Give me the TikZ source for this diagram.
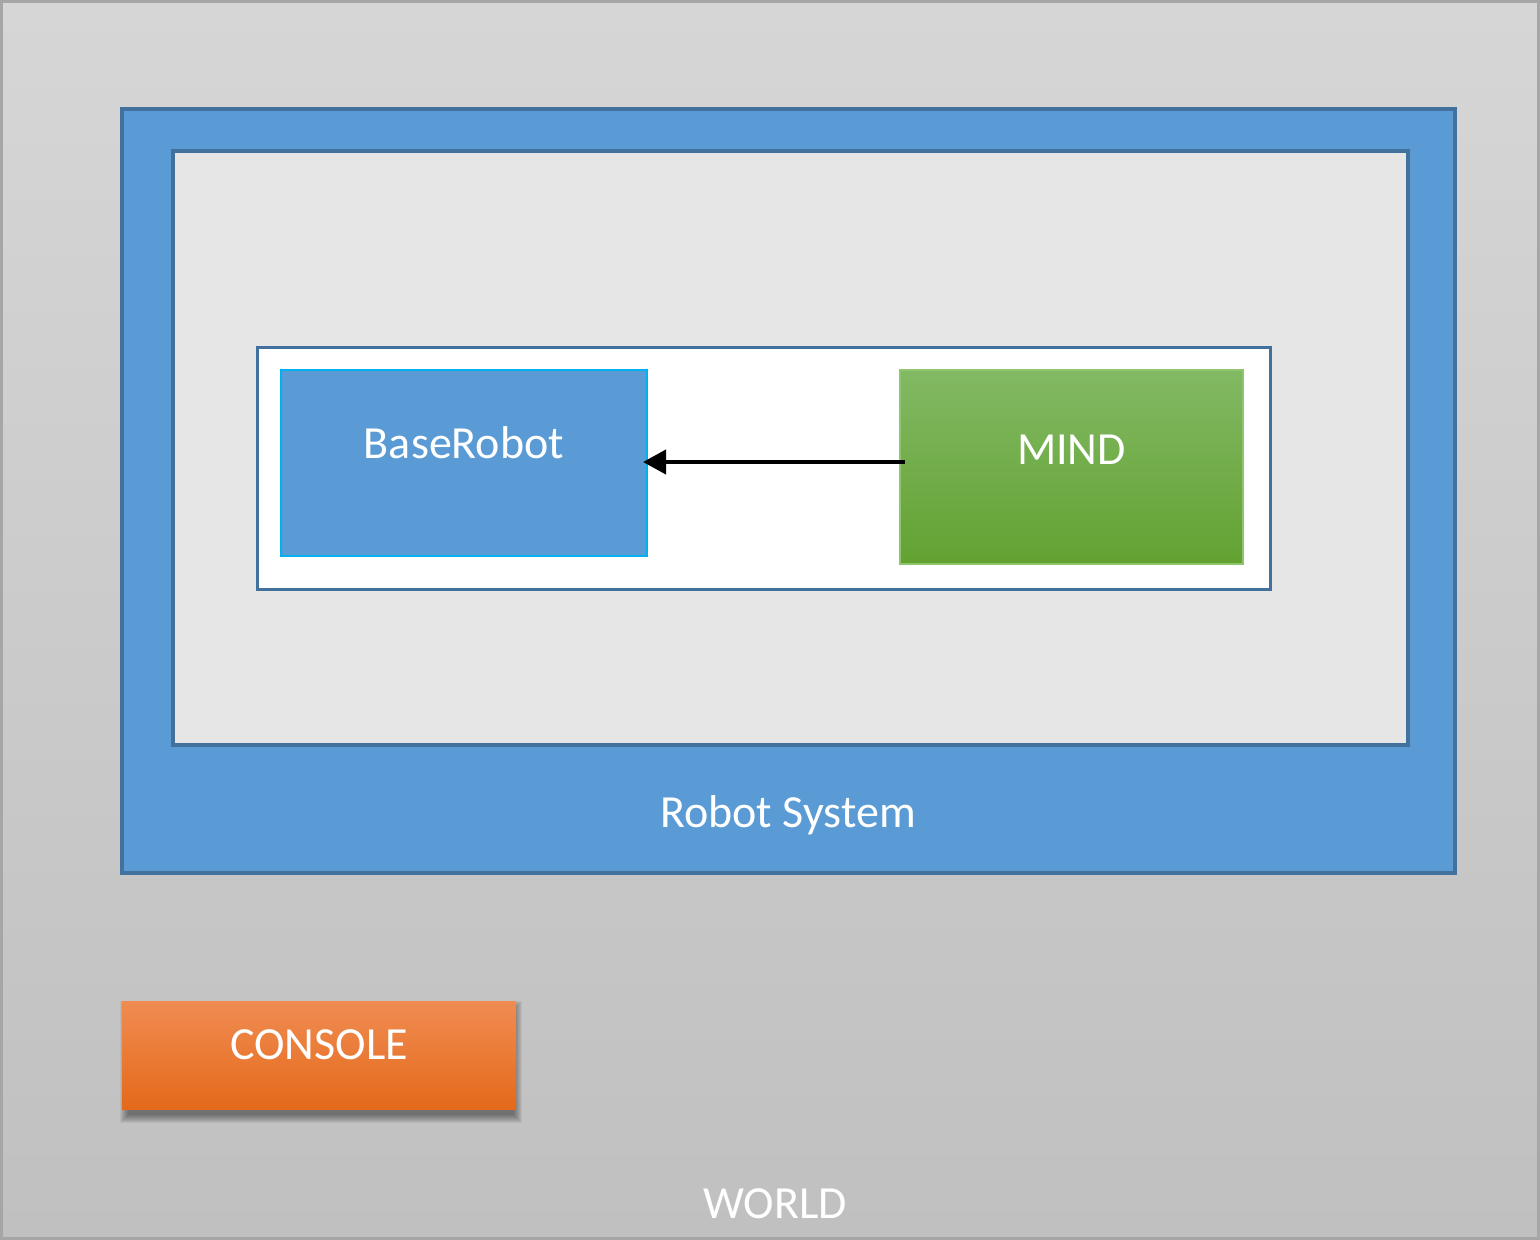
\documentclass[tikz,border=0pt]{standalone}
\usepackage{fontspec}
\setmainfont{Carlito}
\usetikzlibrary{positioning}
\usetikzlibrary{shadows}
\usetikzlibrary{arrows.meta}

\definecolor{worldtop}{HTML}{D6D6D6}
\definecolor{worldbot}{HTML}{C0C0C0}
\definecolor{worldline}{HTML}{A6A6A6}
\definecolor{sysfill}{HTML}{5B9BD5}
\definecolor{sysline}{HTML}{41719C}
\definecolor{innerfill}{HTML}{E7E6E6}
\definecolor{baseline}{HTML}{00B0F0}
\definecolor{mindtop}{HTML}{82B964}
\definecolor{mindmid}{HTML}{70AD47}
\definecolor{mindbot}{HTML}{62A232}
\definecolor{mindline}{HTML}{8FC56C}
\definecolor{contop}{HTML}{F08C52}
\definecolor{conmid}{HTML}{F58130}
\definecolor{conbot}{HTML}{E4691A}

\begin{document}
\begin{tikzpicture}[x=1pt,y=-1pt,inner sep=0pt,outer sep=0pt,
	box/.style={rectangle,minimum width=#1},
	big text/.style={font=\fontsize{46}{54}\selectfont,text=white,anchor=base},
	link/.style={-{Triangle[length=23pt,width=24pt]},line width=4pt,black}]

	\useasboundingbox (0,0) rectangle (1540,1240);

	% world
	\node[box=1537,minimum height=1237,top color=worldtop,bottom color=worldbot,
		draw=worldline,line width=3pt] (world) at (770,620) {};
	\node[big text] (worldtext) at (775,1218) {WORLD};

	% robot system
	\node[box=1333,minimum height=764,fill=sysfill,draw=sysline,line width=4pt]
		(system) at (788.5,491) {};
	\node[box=1235,minimum height=594,fill=innerfill,draw=sysline,line width=4pt]
		(inner) at (790.5,448) {};
	\node[big text] (systext) at (788,827) {Robot System};

	% robot group
	\node[box=1013,minimum height=242,fill=white,draw=sysline,line width=3pt]
		(group) at (763.5,468) {};
	\node[box=366,minimum height=186,fill=sysfill,draw=baseline,line width=2pt]
		(base) at (464,463) {};
	\node[big text] (basetext) at (464,458) {BaseRobot};
	\node[box=343,minimum height=194,top color=mindtop,middle color=mindmid,
		bottom color=mindbot,draw=mindline,line width=2pt] (mind) at (1071.5,467) {};
	\node[big text] (mindtext) at (1071.5,464) {MIND};

	\draw[link] ([xshift=5pt,yshift=5pt]mind.west) -- ([xshift=-4pt,yshift=1pt]base.east);

	% console, soft shadow first
	\coordinate (shadnw) at (128,1009);
	\coordinate (shadse) at (514,1115);
	\foreach \r in {0,...,8}
		\fill[black,opacity=0.055] ([xshift=-\r pt,yshift=\r pt]shadnw)
			rectangle ([xshift=\r pt,yshift=-\r pt]shadse);
	\node[box=394,minimum height=108,top color=contop,middle color=conmid,
		bottom color=conbot] (console) at (319,1055) {};
	\node[big text] (context) at (319,1059) {CONSOLE};
\end{tikzpicture}
\end{document}
